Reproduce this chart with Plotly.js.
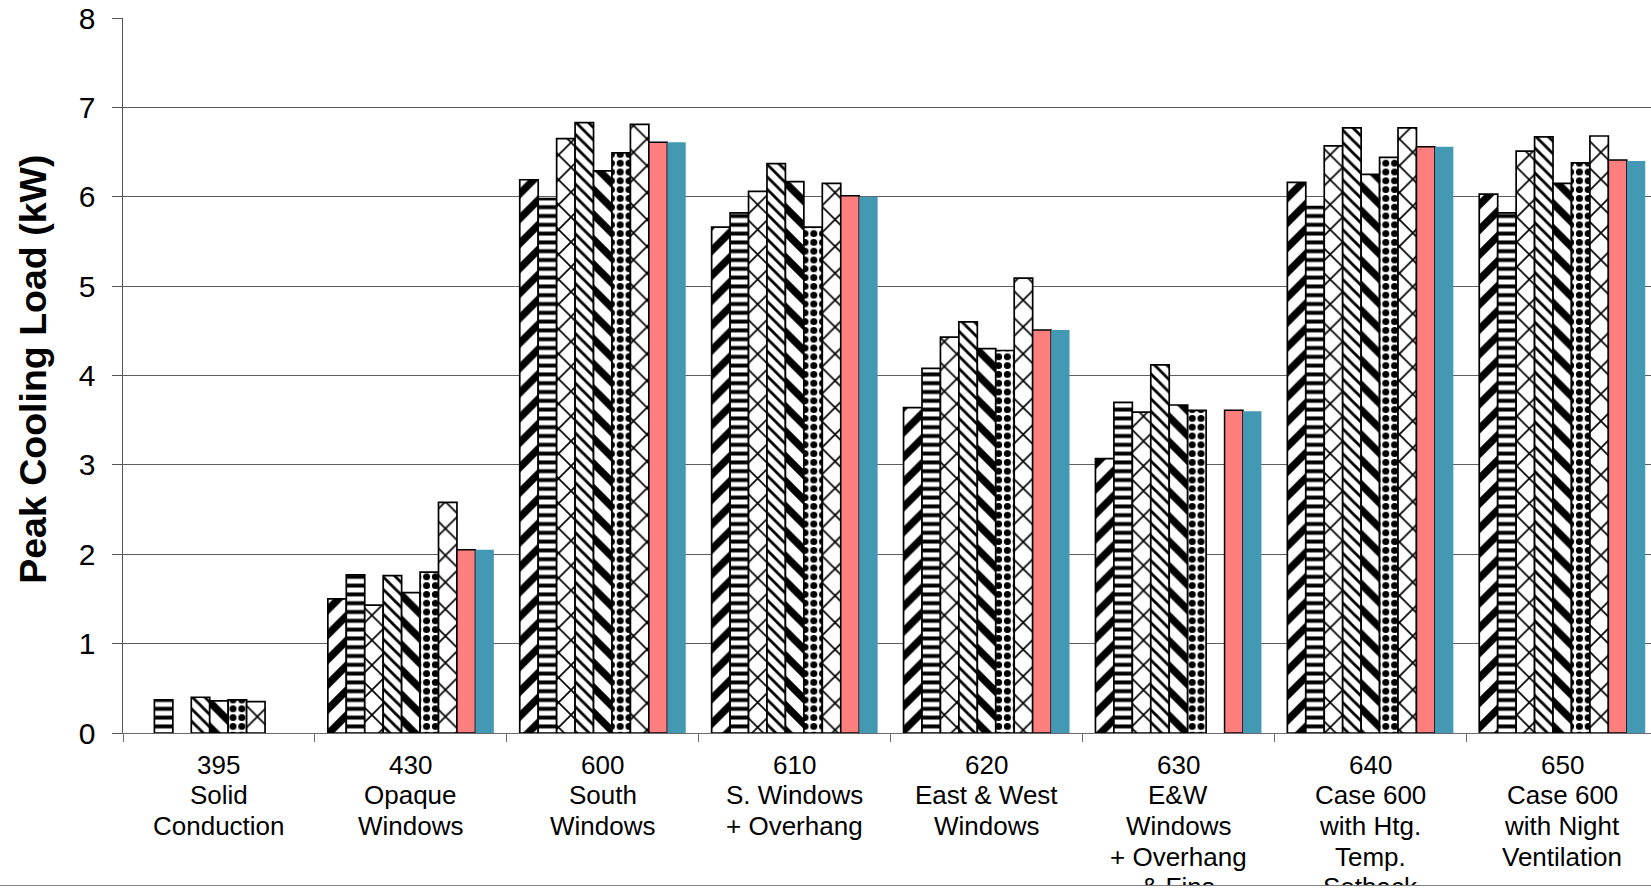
<!DOCTYPE html>
<html>
<head>
<meta charset="utf-8">
<script src="https://cdn.plot.ly/plotly-3.0.1.min.js"></script>
<style>
  html, body { margin: 0; padding: 0; background: #ffffff; overflow: hidden; }
  #frame {
    position: absolute; left: 0; top: 0;
    width: 1651px; height: 885px;
    overflow: hidden;
    border-bottom: 1px solid #808080;
  }
  #chart { width: 1651px; height: 891px; }
</style>
</head>
<body>
<div id="frame"><div id="chart"></div></div>
<script>
// Test cases along the x axis
const cases = ['395', '430', '600', '610', '620', '630', '640', '650'];

// Multi-line descriptions printed under each case number
const caseLines = [
  ['395', 'Solid', 'Conduction'],
  ['430', 'Opaque', 'Windows'],
  ['600', 'South', 'Windows'],
  ['610', 'S. Windows', '+ Overhang'],
  ['620', 'East &amp; West', 'Windows'],
  ['630', 'E&amp;W', 'Windows', '+ Overhang', '&amp; Fins'],
  ['640', 'Case 600', 'with Htg.', 'Temp.', 'Setback'],
  ['650', 'Case 600', 'with Night', 'Ventilation']
];

const yTitle = 'Peak Cooling Load (kW)';

// Peak cooling load (kW) per program; null = no result for that case
const program1 = [null, 1.50, 6.19, 5.66, 3.64, 3.07, 6.16, 6.03];
const program2 = [0.37, 1.77, 5.98, 5.82, 4.08, 3.70, 5.89, 5.82];
const program3 = [null, 1.43, 6.65, 6.06, 4.43, 3.59, 6.57, 6.51];
const program4 = [0.40, 1.76, 6.83, 6.37, 4.60, 4.12, 6.77, 6.67];
const program5 = [0.36, 1.57, 6.29, 6.17, 4.30, 3.67, 6.25, 6.15];
const program6 = [0.37, 1.80, 6.49, 5.66, 4.28, 3.61, 6.44, 6.38];
const program7 = [0.35, 2.58, 6.81, 6.15, 5.09, null, 6.77, 6.68];
const modelA   = [null, 2.05, 6.61, 6.01, 4.51, 3.61, 6.56, 6.41];
const modelB   = [null, 2.05, 6.61, 6.00, 4.51, 3.60, 6.56, 6.40];

const seriesNames = ['Program 1', 'Program 2', 'Program 3', 'Program 4', 'Program 5',
                     'Program 6', 'Program 7', 'Model A', 'Model B'];
const seriesValues = [program1, program2, program3, program4, program5,
                      program6, program7, modelA, modelB];

// Fill styles: hatched black-on-white for the programs, solid colours for the models
const seriesStyles = [
  { pattern: { shape: '/',  size: 17.6, solidity: 0.42 } },
  { pattern: { shape: '-',  size: 8.8,  solidity: 0.45 } },
  { pattern: { shape: 'x',  size: 17.6, solidity: 0.18 } },
  { pattern: { shape: '\\', size: 8.8,  solidity: 0.32 } },
  { pattern: { shape: '\\', size: 17.6, solidity: 0.42 } },
  { pattern: { shape: '.',  size: 8.8,  solidity: 0.5 } },
  { pattern: { shape: 'x',  size: 19,   solidity: 0.17 } },
  { color: '#ff7f7f', lineWidth: 1.5 },
  { color: '#4399b4', lineWidth: 0 }
];

const traces = seriesValues.map((vals, i) => {
  const st = seriesStyles[i];
  const marker = st.pattern
    ? {
        color: '#ffffff',
        line: { color: '#000000', width: 1.7 },
        pattern: Object.assign({ fgcolor: '#000000', bgcolor: '#ffffff', fillmode: 'replace' }, st.pattern)
      }
    : { color: st.color, line: { color: '#000000', width: st.lineWidth } };
  return {
    type: 'bar',
    name: seriesNames[i],
    x: cases,
    y: vals,
    marker: marker,
    hoverinfo: 'x+y+name'
  };
});

const fontFamily = 'Liberation Sans, Arial, sans-serif';

// Category descriptions, one annotation per text line
const labelFont = { family: fontFamily, size: 26, color: '#000000' };
const annotations = [];
caseLines.forEach((lines, ci) => {
  lines.forEach((txt, li) => {
    annotations.push({
      xref: 'x', yref: 'paper',
      x: ci, y: 0,
      yshift: -31.5 - li * 30.7,
      xanchor: 'center', yanchor: 'middle',
      text: txt, showarrow: false,
      font: labelFont
    });
  });
});

// Rotated y-axis title
annotations.push({
  xref: 'paper', yref: 'paper',
  x: 0, xshift: -90,
  y: 0.508,
  xanchor: 'center', yanchor: 'middle',
  textangle: -90,
  text: '<b>' + yTitle + '</b>',
  showarrow: false,
  font: { family: fontFamily, size: 37.5, color: '#000000' }
});

const layout = {
  width: 1651,
  height: 891,
  margin: { l: 123, r: 0, t: 18, b: 158, pad: 0 },
  paper_bgcolor: '#ffffff',
  plot_bgcolor: '#ffffff',
  font: { family: fontFamily, color: '#000000' },
  showlegend: false,
  barmode: 'group',
  bargap: 0.135,
  bargroupgap: 0,
  xaxis: {
    type: 'category',
    range: [-0.5, 7.4625],
    showticklabels: false,
    ticks: 'outside',
    tickson: 'boundaries',
    ticklen: 8,
    tickcolor: '#6b6b6b',
    showline: true,
    linecolor: '#6b6b6b',
    linewidth: 1,
    showgrid: false,
    zeroline: false,
    fixedrange: true
  },
  yaxis: {
    range: [0, 8],
    dtick: 1,
    tick0: 0,
    ticks: 'outside',
    ticklen: 10,
    tickcolor: '#555555',
    ticklabelstandoff: 10,
    tickfont: { size: 30, family: fontFamily },
    showline: true,
    linecolor: '#555555',
    linewidth: 1.5,
    showgrid: true,
    gridcolor: '#5e5e5e',
    gridwidth: 1,
    zeroline: false,
    fixedrange: true
  },
  annotations: annotations
};

Plotly.newPlot('chart', traces, layout, { displayModeBar: false, staticPlot: true });
</script>
</body>
</html>
